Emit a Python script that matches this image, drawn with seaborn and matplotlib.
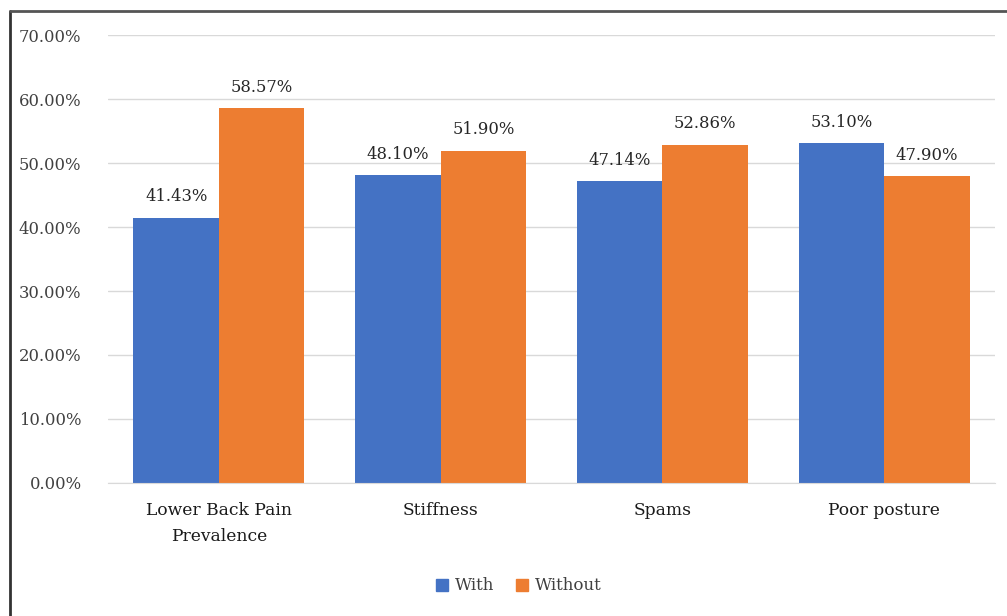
import seaborn as sns
import matplotlib.pyplot as plt
import pandas as pd
from matplotlib.lines import Line2D
from matplotlib.ticker import PercentFormatter

# Data
categories = ['Lower Back Pain\nPrevalence', 'Stiffness', 'Spams', 'Poor posture']
with_vals = [41.43, 48.10, 47.14, 53.10]
without_vals = [58.57, 51.90, 52.86, 47.90]
groups = ['With', 'Without']

df = pd.DataFrame({
    'Category': categories * 2,
    'Group': [groups[0]] * len(categories) + [groups[1]] * len(categories),
    'Value': with_vals + without_vals,
})

sns.set_style("white")
plt.rcParams['font.family'] = ['DejaVu Serif']

fig = plt.figure(figsize=(10.07, 6.16), dpi=100)
ax = fig.add_axes([0.1072, 0.216, 0.881, 0.727])

sns.barplot(data=df, x='Category', y='Value', hue='Group',
            palette=['#4472C4', '#ED7D31'], width=0.77, ax=ax,
            saturation=1, legend=False, linewidth=0)

for cont in ax.containers:
    ax.bar_label(cont, labels=[f'{v:.2f}%' for v in cont.datavalues],
                 padding=9, fontsize=11.8, color='#262626')

ax.set_ylim(0, 70)
ax.set_yticks(range(0, 71, 10))
ax.yaxis.set_major_formatter(PercentFormatter(decimals=2))
ax.set_xlim(-0.5, 3.5)
ax.grid(axis='y', color='#d9d9d9', linewidth=1)
ax.set_axisbelow(True)
for s in ['top', 'right', 'left']:
    ax.spines[s].set_visible(False)
ax.spines['bottom'].set_color('#d9d9d9')
ax.tick_params(axis='y', length=0, pad=19, labelsize=11.8, labelcolor='#404040')
ax.tick_params(axis='x', length=0, pad=14, labelsize=12.3, labelcolor='#1a1a1a')
for t in ax.get_xticklabels():
    t.set_linespacing(1.7)
ax.set_xlabel('')
ax.set_ylabel('')

# legend
handles = [plt.Rectangle((0, 0), 1, 1, color=c) for c in ['#4472C4', '#ED7D31']]
fig.legend(handles, groups, loc='center', bbox_to_anchor=(0.515, 1 - 586 / 616),
           ncol=2, frameon=False, fontsize=12, handlelength=0.75, handleheight=0.75,
           handletextpad=0.4, columnspacing=1.3, labelcolor='#404040')

# outer border (left and top visible)
fig.add_artist(Line2D([10 / 1007, 10 / 1007], [0, 1 - 11 / 616], transform=fig.transFigure,
                      color='#333333', linewidth=2))
fig.add_artist(Line2D([10 / 1007, 1], [1 - 11 / 616, 1 - 11 / 616], transform=fig.transFigure,
                      color='#555555', linewidth=2))

fig.savefig('out.png', dpi=100)
